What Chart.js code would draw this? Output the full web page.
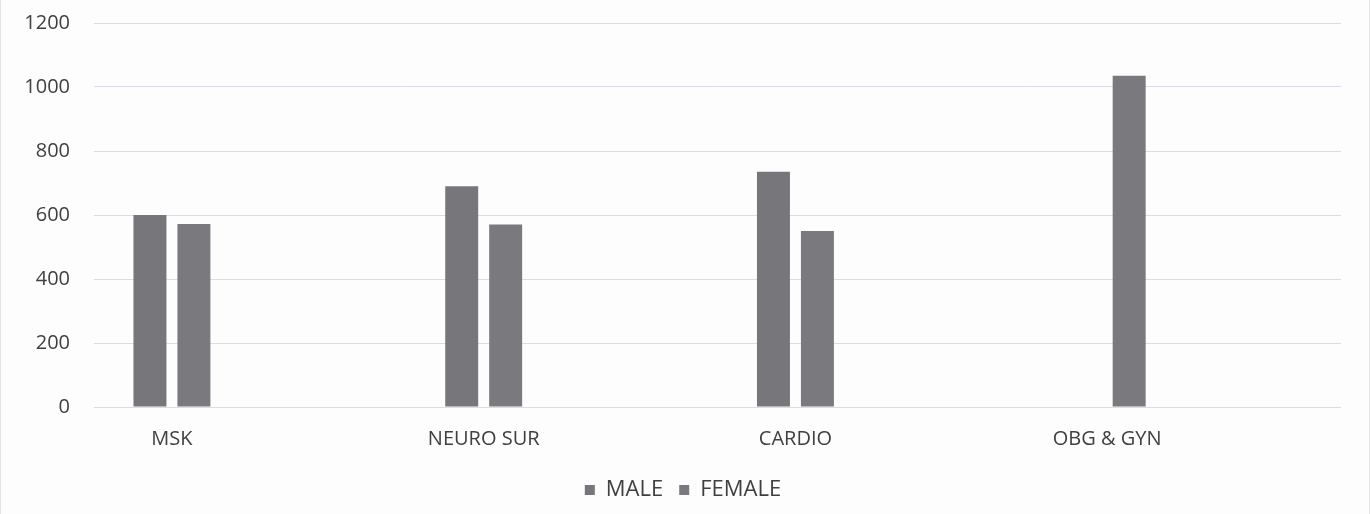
<!DOCTYPE html>
<html>
<head>
<meta charset="utf-8">
<script src="https://cdn.jsdelivr.net/npm/chart.js@4/dist/chart.umd.min.js"></script>
<style>
  html, body { margin: 0; padding: 0; background: #ffffff; }
  #wrap { position: relative; width: 1370px; height: 514px; background: #fdfdfd; box-sizing: border-box; border-left: 1px solid #e4e4e4; border-right: 1px solid #e4e4e4; }
</style>
</head>
<body>
<div id="wrap"><canvas id="c" width="1370" height="514"></canvas></div>
<script>
const categories = ['MSK', 'NEURO SUR', 'CARDIO', 'OBG & GYN'];
const maleValues = [600, 690, 735, null];
const femaleValues = [572, 570, 550, 1035];
const yTicks = [0, 200, 400, 600, 800, 1000, 1200];

const toPoints = arr => arr.map((v, i) => ({ x: i, y: v }));
const axisFont = { family: "'Open Sans', 'Liberation Sans', sans-serif", size: 20 };
const legendFont = { family: "'Open Sans', 'Liberation Sans', sans-serif", size: 22 };

new Chart(document.getElementById('c'), {
  type: 'bar',
  data: {
    datasets: [
      { label: 'MALE', data: toPoints(maleValues), backgroundColor: '#77767b', barPercentage: 0.75, categoryPercentage: 0.282 },
      { label: 'FEMALE', data: toPoints(femaleValues), backgroundColor: '#7a797e', barPercentage: 0.75, categoryPercentage: 0.282 }
    ]
  },
  options: {
    responsive: false,
    animation: false,
    layout: { padding: { left: 24, right: 30, top: 23, bottom: 3 } },
    plugins: {
      legend: {
        position: 'bottom',
        labels: { boxWidth: 10, boxHeight: 10, color: '#404040', font: legendFont, padding: 16 }
      },
      tooltip: { enabled: false }
    },
    scales: {
      x: {
        type: 'linear',
        offset: false,
        min: -0.25,
        max: 3.75,
        grid: { display: false },
        border: { display: false },
        afterBuildTicks: s => { s.ticks = categories.map((c, i) => ({ value: i })); },
        afterFit: s => { s.paddingLeft = 0; s.paddingRight = 0; s.paddingTop = 0; },
        ticks: {
          color: '#404040',
          font: axisFont,
          padding: 12,
          maxRotation: 0,
          autoSkip: false,
          callback: v => categories[v]
        }
      },
      y: {
        min: 0,
        max: 1200,
        afterBuildTicks: s => { s.ticks = yTicks.map(v => ({ value: v })); },
        afterFit: s => { s.paddingTop = 0; s.width = 69; },
        grid: { color: '#dcdce6', lineWidth: 1, drawTicks: false },
        border: { display: false },
        ticks: { color: '#404040', font: axisFont, padding: 24, callback: v => String(v) }
      }
    }
  }
});
</script>
</body>
</html>
